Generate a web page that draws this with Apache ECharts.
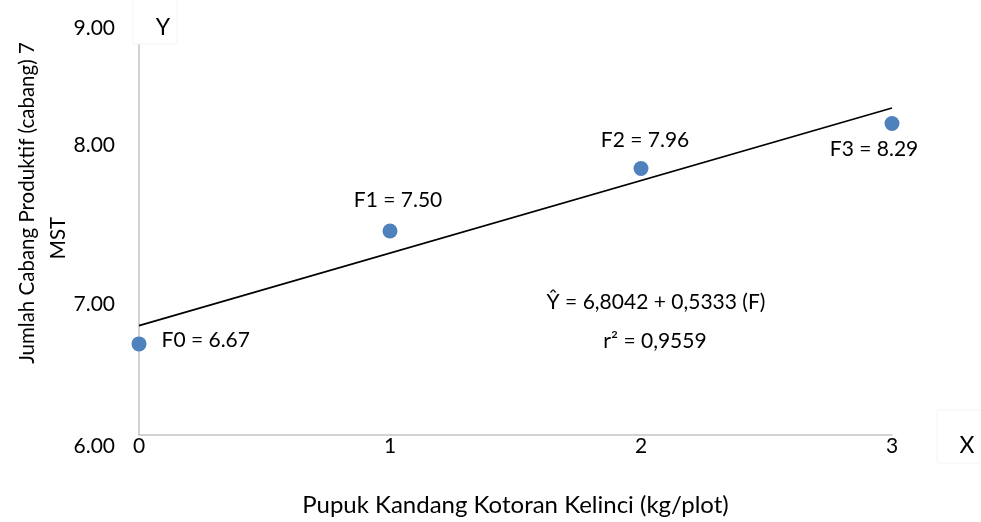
<!DOCTYPE html>
<html>
<head>
<meta charset="utf-8">
<script src="https://cdn.jsdelivr.net/npm/echarts@6/dist/echarts.min.js"></script>
<style>
html,body{margin:0;padding:0;background:#fff;}
#chart{width:981px;height:522px;}
</style>
</head>
<body>
<div id="chart"></div>
<script>
var pointNames = ['F0', 'F1', 'F2', 'F3'];
var xValues = [0, 1, 2, 3];
var yValues = [6.67, 7.50, 7.96, 8.29];
var regression = { intercept: 6.8042, slope: 0.5333, r2: '0,9559' };
var xTicks = [0, 1, 2, 3];
var yTicks = [6.00, 7.00, 8.00, 9.00];
var xAxisTitle = 'Pupuk Kandang Kotoran Kelinci (kg/plot)';
var yAxisTitle = ['Jumlah Cabang Produktif (cabang) 7', 'MST'];

var FONT = 'Lato, "Open Sans", sans-serif';
var labelStyles = [
  { position: 'right', distance: 15, offset: [0, -4] },
  { position: 'top', distance: 13, offset: [8, 0] },
  { position: 'top', distance: 10, offset: [4, 0] },
  { position: 'bottom', distance: 8, offset: [-18, 0] }
];

var scatterData = xValues.map(function (x, i) {
  var ls = labelStyles[i];
  return {
    value: [x, yValues[i]],
    name: pointNames[i],
    label: { show: true, position: ls.position, distance: ls.distance, offset: ls.offset,
      color: '#000', fontSize: 21, fontFamily: FONT,
      formatter: pointNames[i] + ' = ' + yValues[i].toFixed(2) }
  };
});
var xMin = xTicks[0], xMax = xTicks[xTicks.length - 1];
var lineData = [[xMin, regression.intercept + regression.slope * xMin],
                [xMax, regression.intercept + regression.slope * xMax]];

var chart = echarts.init(document.getElementById('chart'), null, { renderer: 'canvas' });
chart.setOption({
  backgroundColor: '#fff',
  animation: false,
  grid: { left: 139, right: 89, top: 27, bottom: 86, containLabel: false },
  xAxis: {
    type: 'value', min: xMin, max: xMax, interval: 1,
    axisLine: { show: true, onZero: false, lineStyle: { color: '#c4c4c4', width: 1.5 } },
    axisTick: { show: false }, splitLine: { show: false },
    axisLabel: { color: '#000', fontSize: 21, fontFamily: FONT, margin: 1,
      formatter: function (v) { return String(v); } },
    name: xAxisTitle, nameLocation: 'middle', nameGap: 58,
    nameTextStyle: { color: '#000', fontSize: 24, fontFamily: FONT }
  },
  yAxis: {
    type: 'value', min: yTicks[0], max: yTicks[yTicks.length - 1], interval: 1,
    axisLine: { show: true, onZero: false, lineStyle: { color: '#c4c4c4', width: 1.5 } },
    axisTick: { show: false }, splitLine: { show: false },
    axisLabel: { color: '#000', fontSize: 21, fontFamily: FONT, margin: 24,
      formatter: function (v) {
        var s = v.toFixed(2);
        var key = { '6.00': 'a', '7.00': 'b', '8.00': 'c', '9.00': 'd' }[s] || 'd';
        return '{' + key + '|' + s + '}';
      },
      rich: {
        a: { fontSize: 21, fontFamily: FONT, color: '#000', padding: [22, 0, 0, 0] },
        b: { fontSize: 21, fontFamily: FONT, color: '#000', padding: [10, 0, 0, 0] },
        c: { fontSize: 21, fontFamily: FONT, color: '#000', padding: [0, 0, 36, 0] },
        d: { fontSize: 21, fontFamily: FONT, color: '#000', padding: [3, 0, 0, 0] }
      }
    }
  },
  series: [
    {
      type: 'line', data: lineData, showSymbol: false, symbol: 'none',
      lineStyle: { color: '#000', width: 1.7 }, z: 2, silent: true
    },
    {
      type: 'scatter', data: scatterData, symbolSize: 15,
      itemStyle: { color: '#4f81bd', opacity: 1 }, z: 3,
      label: { color: '#000', fontSize: 21, fontFamily: FONT }
    }
  ],
  graphic: [
    { type: 'rect', shape: { x: 133, y: -1, width: 44, height: 45 },
      style: { fill: '#fff', stroke: '#f4f4f4', lineWidth: 1 }, z: 100 },
    { type: 'text', x: 163, y: 28, z: 101,
      style: { text: 'Y', fill: '#000', font: '23px ' + FONT, textAlign: 'center', textVerticalAlign: 'middle' } },
    { type: 'rect', shape: { x: 937, y: 410, width: 45, height: 53 },
      style: { fill: '#fff', stroke: '#f4f4f4', lineWidth: 1 }, z: 100 },
    { type: 'text', x: 967, y: 446, z: 101,
      style: { text: 'X', fill: '#000', font: '23px ' + FONT, textAlign: 'center', textVerticalAlign: 'middle' } },
    { type: 'text', x: 27, y: 203, rotation: Math.PI / 2, z: 101,
      style: { text: yAxisTitle[0], fill: '#000', font: '20.5px ' + FONT, textAlign: 'center', textVerticalAlign: 'middle' } },
    { type: 'text', x: 58, y: 238, rotation: Math.PI / 2, z: 101,
      style: { text: yAxisTitle[1], fill: '#000', font: '20.5px ' + FONT, textAlign: 'center', textVerticalAlign: 'middle' } },
    { type: 'text', x: 656, y: 302, z: 101,
      style: { text: '\u0176 = ' + regression.intercept.toFixed(4).replace('.', ',') + ' + ' + regression.slope.toFixed(4).replace('.', ',') + ' (F)',
        fill: '#000', font: '21px ' + FONT, textAlign: 'center', textVerticalAlign: 'middle' } },
    { type: 'text', x: 655, y: 341, z: 101,
      style: { text: 'r\u00B2 = ' + regression.r2, fill: '#000', font: '21px ' + FONT, textAlign: 'center', textVerticalAlign: 'middle' } }
  ]
});
</script>
</body>
</html>
